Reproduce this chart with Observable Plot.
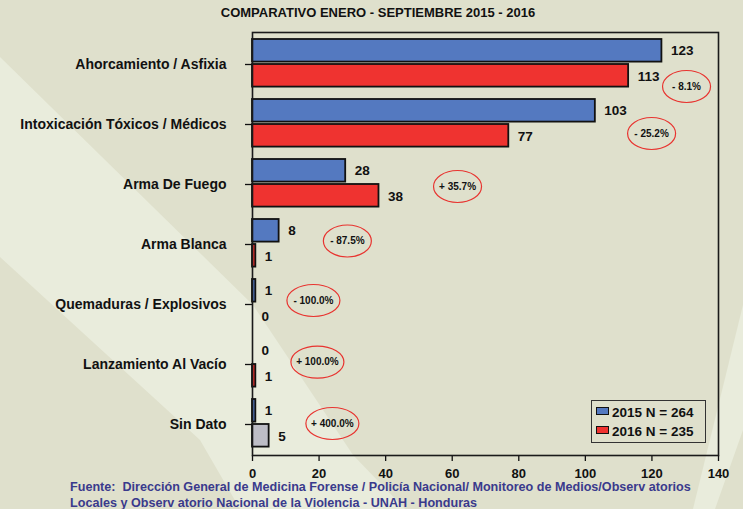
<!DOCTYPE html>
<html>
<head>
<meta charset="utf-8">
<script src="https://cdn.jsdelivr.net/npm/d3@7"></script>
<script src="https://cdn.jsdelivr.net/npm/@observablehq/plot@0.6"></script>
<style>
  html, body { margin: 0; padding: 0; }
  body { width: 743px; height: 509px; position: relative; overflow: hidden; background: #dfe0cc; font-family: "Liberation Sans", Arial, sans-serif; }
  .stripe { position: absolute; left: 0; top: 0; width: 743px; height: 509px; background: #e9ecdc; }
  #title { position: absolute; top: 5px; left: 0; width: 756px; text-align: center; font-size: 13px; font-weight: bold; color: #111; }
  #chart { position: absolute; top: 0; left: 0; }
  #legend { position: absolute; left: 591px; top: 400px; width: 113px; height: 41px; border: 1.5px solid #333; font-size: 13.5px; font-weight: bold; color: #111; }
  .lrow { position: absolute; left: 4px; height: 16px; line-height: 16px; white-space: nowrap; }
  .sw { display: inline-block; width: 11px; height: 6px; border: 1.2px solid #111; margin-right: 3px; vertical-align: 2px; }
  #footer { position: absolute; left: 70px; top: 479px; font-size: 12.6px; font-weight: bold; color: #3a3a8c; line-height: 16px; white-space: nowrap; }
</style>
</head>
<body>
<div class="stripe" style="clip-path: polygon(0px 57px, 253px 305px, 353px 455px, 405px 509px, 240px 509px, 200px 440px, 0px 257px);"></div>
<div class="stripe" style="clip-path: polygon(743px 305px, 743px 430px, 715px 509px, 693px 509px);"></div>
<div id="title">COMPARATIVO ENERO - SEPTIEMBRE 2015 - 2016</div>
<div id="chart"></div>
<div id="legend">
  <div class="lrow" style="top:4px"><span class="sw" style="background:#5479c0"></span><span id="l1"></span></div>
  <div class="lrow" style="top:23px"><span class="sw" style="background:#ef3330"></span><span id="l2"></span></div>
</div>
<div id="footer">Fuente: &nbsp;Dirección General de Medicina Forense / Policía Nacional/ Monitoreo de Medios/Observ atorios<br>Locales y Observ atorio Nacional de la Violencia - UNAH - Honduras</div>
<script>
const categories = ["Ahorcamiento / Asfixia", "Intoxicación Tóxicos / Médicos", "Arma De Fuego", "Arma Blanca", "Quemaduras / Explosivos", "Lanzamiento Al Vacío", "Sin Dato"];
const values2015 = [123, 103, 28, 8, 1, 0, 1];
const values2016 = [113, 77, 38, 1, 0, 1, 5];
const changeLabels = ["- 8.1%", "- 25.2%", "+ 35.7%", "- 87.5%", "- 100.0%", "+ 100.0%", "+ 400.0%"];
const legendLabels = ["2015 N = 264", "2016 N = 235"];
const xTicks = [0, 20, 40, 60, 80, 100, 120, 140];
const noteX = [130.4, 119.9, 61.6, 28.5, 18.3, 19.5, 24];
const noteDy = [22, 9, 2, -3.5, -4, -2.4, -1];

document.getElementById("l1").textContent = legendLabels[0];
document.getElementById("l2").textContent = legendLabels[1];

const rows = categories.map((c, i) => ({cat: c, v15: values2015[i], v16: values2016[i], note: changeLabels[i], nx: noteX[i], ndy: noteDy[i]}));

function ellipse(rx, ry) {
  const k = 0.5523;
  return {draw(ctx) {
    ctx.moveTo(rx, 0);
    ctx.bezierCurveTo(rx, k * ry, k * rx, ry, 0, ry);
    ctx.bezierCurveTo(-k * rx, ry, -rx, k * ry, -rx, 0);
    ctx.bezierCurveTo(-rx, -k * ry, -k * rx, -ry, 0, -ry);
    ctx.bezierCurveTo(k * rx, -ry, rx, -k * ry, rx, 0);
    ctx.closePath();
  }};
}

const blue = "#5479c0", red = "#ef3330", gray = "#bdbdc6";
const barStyle = {stroke: "#111", strokeWidth: 1.8};

const notes = rows.flatMap(d => {
  const rx = d.note.length >= 8 ? 26.5 : 24;
  return [
    Plot.dot([d], {x: "nx", y: "cat", dy: d.ndy, r: 5, symbol: ellipse(rx, 16), stroke: "#e8332f", strokeWidth: 1.2, fill: "none"}),
    Plot.text([d], {x: "nx", y: "cat", dy: d.ndy, text: "note", fontSize: 10, fontWeight: "bold", fill: "#111"})
  ];
});

const chart = Plot.plot({
  width: 743,
  height: 482,
  marginTop: 32,
  marginBottom: 27,
  marginLeft: 252,
  marginRight: 25,
  style: {background: "transparent", fontFamily: "Liberation Sans, Arial, sans-serif", color: "#111"},
  x: {domain: [0, 140]},
  y: {domain: categories, padding: 0},
  marks: [
    Plot.barX(rows.filter(d => d.v15 > 0), {y: "cat", x: "v15", fill: blue, ...barStyle, insetTop: 5, insetBottom: 32.4}),
    Plot.barX(rows.filter(d => d.v16 > 0 && d.cat !== "Sin Dato"), {y: "cat", x: "v16", fill: red, ...barStyle, insetTop: 30, insetBottom: 7.4}),
    Plot.barX(rows.filter(d => d.cat === "Sin Dato"), {y: "cat", x: "v16", fill: gray, ...barStyle, insetTop: 30, insetBottom: 7.4}),
    Plot.text(rows, {y: "cat", x: "v15", text: d => String(d.v15), dx: 9, dy: -14, textAnchor: "start", fontSize: 13.5, fontWeight: "bold", fill: "#111"}),
    Plot.text(rows, {y: "cat", x: "v16", text: d => String(d.v16), dx: 9, dy: 12, textAnchor: "start", fontSize: 13.5, fontWeight: "bold", fill: "#111"}),
    ...notes,
    Plot.axisY({tickSize: 7, tickPadding: 19, fontSize: 14, fontWeight: "bold", label: null, strokeWidth: 1.3}),
    Plot.axisX({ticks: xTicks, tickSize: 6, tickPadding: 7, fontSize: 13, fontWeight: "bold", label: null, strokeWidth: 1.3}),
    Plot.frame({stroke: "#1a1a1a", strokeWidth: 1.6})
  ]
});
document.getElementById("chart").appendChild(chart);
</script>
</body>
</html>
